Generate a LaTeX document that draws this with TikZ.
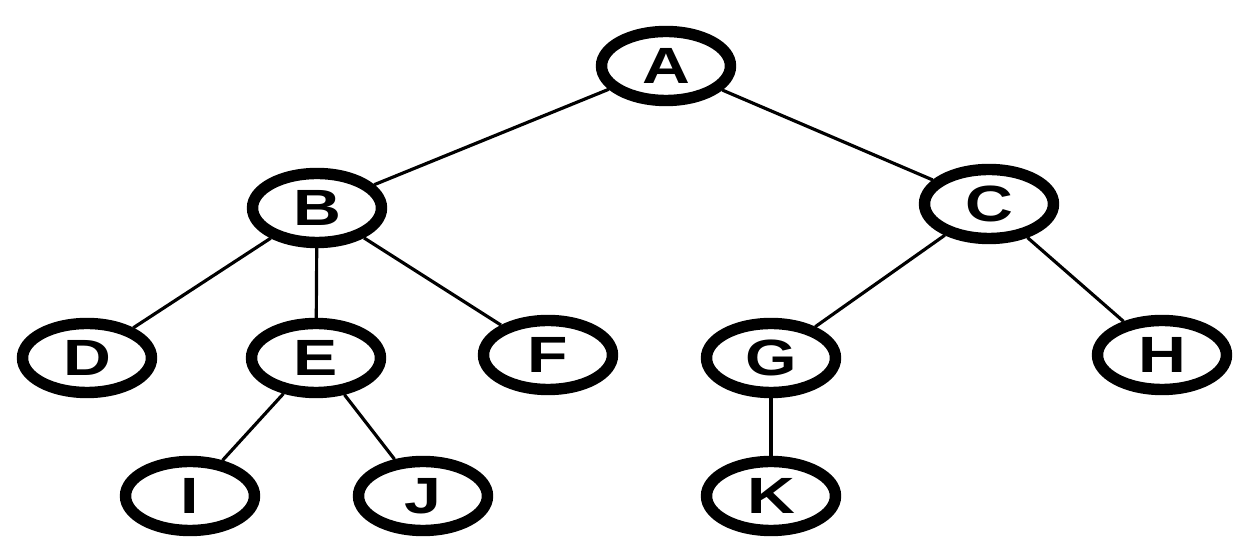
\documentclass[tikz,border=0pt]{standalone}
\usepackage{fontspec}
\usetikzlibrary{shapes.geometric}
\newfontfamily\treefont[FakeStretch=1.3]{Liberation Sans}

\begin{document}
\begin{tikzpicture}
        \tikzset{tree node/.style={draw,ellipse,line width=6.5pt,minimum width=2.58cm,minimum height=1.38cm,inner sep=0pt,
                font=\treefont\bfseries\fontsize{29}{32}\selectfont},
            branch/.style={draw,line width=1.8pt}}
        \useasboundingbox (0,0) rectangle (24.76,10.74);
        \node[tree node] (A) at (13.32,9.42) {A};
        \node[tree node] (B) at (6.34,6.58) {B};
        \node[tree node] (C) at (19.78,6.66) {C};
        \node[tree node] (D) at (1.74,3.58) {D};
        \node[tree node] (E) at (6.32,3.58) {E};
        \node[tree node] (F) at (10.96,3.64) {F};
        \node[tree node] (G) at (15.42,3.58) {G};
        \node[tree node] (H) at (23.24,3.64) {H};
        \node[tree node] (I) at (3.80,0.82) {I};
        \node[tree node] (J) at (8.46,0.82) {J};
        \node[tree node] (K) at (15.42,0.82) {K};
        \draw[branch] (A) -- (B);
        \draw[branch] (A) -- (C);
        \draw[branch] (B) -- (D);
        \draw[branch] (B) -- (E);
        \draw[branch] (B) -- (F);
        \draw[branch] (E) -- (I);
        \draw[branch] (E) -- (J);
        \draw[branch] (C) -- (G);
        \draw[branch] (C) -- (H);
        \draw[branch] (G) -- (K);
\end{tikzpicture}
\end{document}
